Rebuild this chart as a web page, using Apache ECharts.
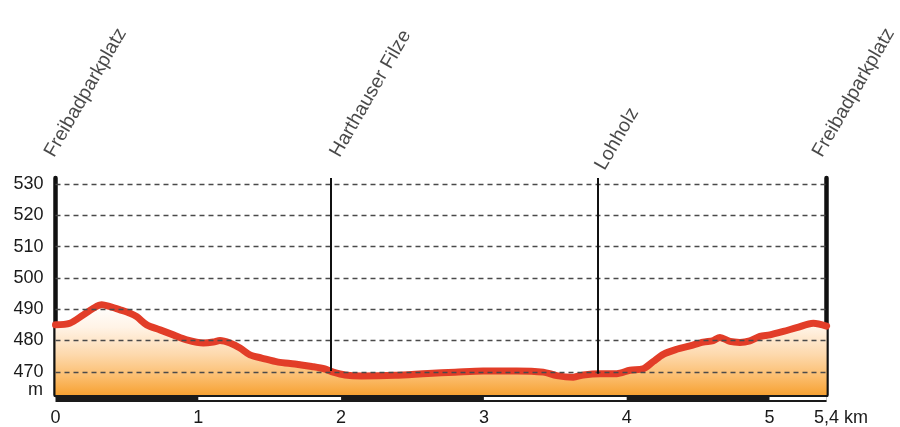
<!DOCTYPE html>
<html>
<head>
<meta charset="utf-8">
<script src="https://cdn.jsdelivr.net/npm/echarts@6/dist/echarts.min.js"></script>
<style>
  html, body { margin: 0; padding: 0; background: #fff; }
  #chart { width: 900px; height: 427px; }
</style>
</head>
<body>
<div id="chart"></div>
<script>
// profile: distance (km) / elevation (m)
const distKm = [0, 0.10, 0.195, 0.265, 0.324, 0.382, 0.452, 0.522, 0.569, 0.639,
  0.732, 0.825, 0.919, 1.035, 1.105, 1.152, 1.222, 1.292, 1.362, 1.444,
  1.56, 1.677, 1.794, 1.887, 1.945, 2.027, 2.144, 2.377, 2.608, 2.798,
  2.994, 3.23, 3.416, 3.51, 3.626, 3.696, 3.813, 3.93, 4.023, 4.116,
  4.186, 4.256, 4.35, 4.443, 4.536, 4.606, 4.653, 4.723, 4.793, 4.863,
  4.933, 5.003, 5.097, 5.19, 5.307, 5.4]
const elevM = [485.0, 485.5, 488.2, 490.3, 491.4, 490.8, 489.8, 488.7, 487.6, 485.0,
  483.4, 481.8, 480.2, 479.2, 479.5, 480.0, 479.2, 477.6, 475.4, 474.4,
  473.1, 472.5, 471.7, 470.9, 469.9, 469.0, 468.7, 468.9, 469.5, 469.9,
  470.3, 470.3, 469.9, 468.8, 468.3, 469.0, 469.4, 469.4, 470.5, 471.0,
  473.3, 475.6, 477.2, 478.3, 479.5, 480.0, 481.0, 479.7, 479.4, 479.9,
  481.3, 481.8, 482.9, 484.1, 485.5, 484.6]

// waypoints
const waypointNames = ['Freibadparkplatz', 'Harthauser Filze', 'Lohholz', 'Freibadparkplatz']
const waypointKm = [0, 1.93, 3.8, 5.4]
const waypointElev = [485.0, 470.3, 469.4, 484.6]

// ticks
const yTicks = [470, 480, 490, 500, 510, 520, 530]
const xTicks = [0, 1, 2, 3, 4, 5, 5.4]
// white parts of the km scale bar
const scaleWhite = [[1, 2], [3, 4], [5, 5.4]]

const yMin = 462.6
const yMax = 531.9
const xMax = 5.4
const font = 'Liberation Sans, Arial, sans-serif'

// screen nudges for the rotated waypoint names (px), turned into the label's own frame
const nameRotate = 60
const nameNudge = [[3, 5], [13, 5], [11, 18], [0, 5]]
const rad = nameRotate * Math.PI / 180
const toLocal = ([sx, sy]) => [
  sx * Math.cos(rad) - sy * Math.sin(rad),
  sx * Math.sin(rad) + sy * Math.cos(rad)
]

const chart = echarts.init(document.getElementById('chart'))

const gridLeft = 55.5
const gridRight = 73.4

const series = [
  {
    name: 'profile',
    type: 'line',
    xAxisIndex: 0,
    yAxisIndex: 0,
    data: distKm.map((d, i) => [d, elevM[i]]),
    smooth: 0.3,
    symbol: 'none',
    z: 3,
    lineStyle: { color: '#e23d28', width: 7, cap: 'round', join: 'round' },
    areaStyle: {
      origin: 'start',
      opacity: 1,
      color: {
        type: 'linear', x: 0, y: 0, x2: 0, y2: 1,
        colorStops: [
          { offset: 0, color: '#ffffff' },
          { offset: 0.25, color: '#fff3e6' },
          { offset: 0.55, color: '#fdd9ad' },
          { offset: 0.8, color: '#fbbd6d' },
          { offset: 1, color: '#f7a233' }
        ]
      }
    }
  },
  {
    // dashed grid lines
    type: 'line',
    xAxisIndex: 0,
    yAxisIndex: 0,
    data: [],
    z: 5,
    markLine: {
      silent: true,
      symbol: 'none',
      animation: false,
      label: { show: false },
      data: yTicks.map(v => ({
        yAxis: v,
        lineStyle: { color: '#4a4a4a', width: 1.3, type: [5, 4] }
      }))
    }
  },
  {
    // waypoint lines
    type: 'line',
    xAxisIndex: 0,
    yAxisIndex: 0,
    data: [],
    z: 2,
    markLine: {
      silent: true,
      symbol: 'none',
      animation: false,
      label: { show: false },
      data: waypointKm.slice(1, -1).map((k, i) => [
        { coord: [k, yMax], lineStyle: { color: '#111', width: 2, type: 'solid' } },
        { coord: [k, waypointElev[i + 1]] }
      ])
    }
  },
  {
    // waypoint names
    type: 'scatter',
    xAxisIndex: 0,
    yAxisIndex: 0,
    clip: false,
    silent: true,
    symbolSize: 1,
    itemStyle: { color: 'rgba(0,0,0,0)' },
    data: waypointKm.map((k, i) => ({
      value: [k, yMax + 7],
      name: waypointNames[i],
      label: { offset: toLocal(nameNudge[i]) }
    })),
    label: {
      show: true,
      formatter: '{b}',
      position: [0, 0],
      align: 'left',
      verticalAlign: 'bottom',
      rotate: nameRotate,
      fontSize: 19.5,
      fontFamily: font,
      color: '#1a1a1a'
    }
  },
  {
    // km scale bar
    type: 'line',
    xAxisIndex: 1,
    yAxisIndex: 2,
    clip: false,
    data: [[0, 0], [xMax, 0]],
    symbol: 'none',
    lineStyle: { color: '#1a1a1a', width: 7, cap: 'butt' },
    z: 2
  }
].concat(scaleWhite.map(seg => ({
  type: 'line',
  xAxisIndex: 1,
  yAxisIndex: 2,
  clip: false,
  data: [[seg[0], 0], [seg[1], 0]],
  symbol: 'none',
  lineStyle: { color: '#ffffff', width: 3, cap: 'butt' },
  z: 3
})))

const option = {
  animation: false,
  backgroundColor: '#fff',
  grid: [
    { left: gridLeft, right: gridRight, top: 178, height: 217 },
    { left: gridLeft, right: gridRight, top: 393, height: 11 }
  ],
  xAxis: [
    {
      gridIndex: 0,
      type: 'value',
      min: 0,
      max: xMax,
      axisLine: { show: false },
      axisTick: { show: false },
      axisLabel: { show: false },
      splitLine: { show: false }
    },
    {
      gridIndex: 1,
      type: 'value',
      min: 0,
      max: xMax,
      axisLine: { show: false },
      axisTick: { show: false },
      splitLine: { show: false },
      axisLabel: {
        customValues: xTicks,
        margin: 5,
        fontSize: 18,
        fontFamily: font,
        color: '#1a1a1a',
        formatter: v => v === xMax ? '{k|5,4 km}' : String(v),
        rich: {
          k: { fontSize: 18, fontFamily: font, color: '#1a1a1a', padding: [0, 0, 0, 29] }
        }
      }
    }
  ],
  yAxis: [
    {
      gridIndex: 0,
      type: 'value',
      min: yMin,
      max: yMax,
      name: 'm',
      nameLocation: 'start',
      nameGap: -17.5,
      nameTextStyle: {
        fontSize: 18,
        fontFamily: font,
        color: '#1a1a1a',
        align: 'right',
        verticalAlign: 'top',
        padding: [0, 12.5, 0, 0]
      },
      axisLine: { show: true, lineStyle: { color: '#111', width: 4.5 } },
      axisTick: { show: false },
      splitLine: { show: false },
      axisLabel: {
        customValues: yTicks,
        margin: 12,
        fontSize: 18,
        fontFamily: font,
        color: '#1a1a1a'
      }
    },
    {
      gridIndex: 0,
      type: 'value',
      position: 'right',
      min: yMin,
      max: yMax,
      axisLine: { show: true, lineStyle: { color: '#111', width: 4.5 } },
      axisTick: { show: false },
      axisLabel: { show: false },
      splitLine: { show: false }
    },
    {
      gridIndex: 1,
      type: 'value',
      min: -1,
      max: 1,
      show: false
    }
  ],
  series: series
}

chart.setOption(option)
</script>
</body>
</html>
